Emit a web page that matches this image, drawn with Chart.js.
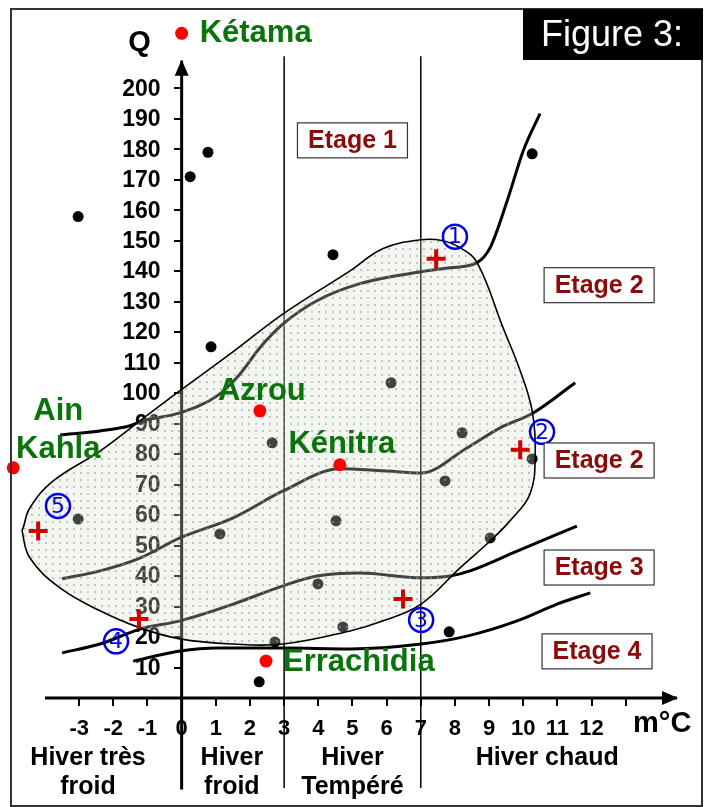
<!DOCTYPE html>
<html>
<head>
<meta charset="utf-8">
<script src="https://cdn.jsdelivr.net/npm/chart.js@4.4.1/dist/chart.umd.min.js"></script>
<style>
  body { margin: 0; background: #fff; }
</style>
</head>
<body>
<canvas id="climChart" width="710" height="807"></canvas>
<script>
// ---- axis ticks ----
const xTicks = [-3, -2, -1, 0, 1, 2, 3, 4, 5, 6, 7, 8, 9, 10, 11, 12, 13];
const xTickLabels = ['-3', '-2', '-1', '0', '1', '2', '3', '4', '5', '6', '7', '8', '9', '10', '11', '12', ''];
const yTicks = [10, 20, 30, 40, 50, 60, 70, 80, 90, 100, 110, 120, 130, 140, 150, 160, 170, 180, 190, 200];
// drawn extent of the two axes
const xAxisRange = [-4, 14.5];
const yAxisRange = [-30, 209];

// ---- winter zones (m in °C) ----
const zoneBounds = [3, 7];
const zoneNames = ['Hiver très\nfroid', 'Hiver\nfroid', 'Hiver\nTempéré', 'Hiver chaud'];

// ---- envelope of the studied stations (closed curve) ----
const envX = [-4.64, -4.44, -3.76, -2.39, -1.22, -0.05, 1.51, 2.97, 4.93, 5.90, 7.01, 7.65, 8.15, 8.65, 9.41, 9.91, 10.26, 10.35, 10.20, 9.61, 9.03, 8.15, 7.01, 5.90, 4.93, 2.97, 1.51, -0.05, -1.22, -2.39, -3.56, -4.44, -4.67];
const envQ = [55.8, 62.4, 71.2, 81.0, 90.9, 100.8, 113.6, 126.0, 140.1, 147.4, 150.3, 150.0, 147.7, 142.8, 121.4, 107.3, 94.2, 80.1, 67.0, 58.1, 51.5, 42.7, 30.8, 25.3, 22.0, 17.7, 17.7, 19.4, 23.0, 28.6, 36.1, 45.9, 54.8];

// ---- limits between bioclimatic stages ----
const lim1X = [-3.56, -2.39, -1.51, -1.13, -0.05, 1.04, 1.71, 2.29, 2.97, 3.96, 5.22, 7.01, 7.86, 8.65, 9.03, 9.53, 10.0, 10.49];
const lim1Q = [86.3, 87.6, 89.3, 90.9, 93.5, 99.1, 106.3, 114.9, 122.7, 130.3, 135.9, 139.8, 141.1, 142.8, 147.7, 163.1, 179.5, 191.7];
const lim2X = [-3.50, -2.39, -1.22, -0.05, 1.51, 2.97, 4.63, 5.90, 7.01, 8.35, 9.32, 10.29, 11.52];
const lim2Q = [39.1, 41.7, 45.9, 52.5, 59.1, 67.9, 75.2, 74.5, 73.8, 82.0, 88.6, 93.5, 103.4];
const lim3X = [-3.50, -2.39, -1.22, -0.05, 1.51, 2.97, 3.96, 5.22, 7.01, 7.86, 8.44, 9.82, 11.57];
const lim3Q = [14.8, 17.7, 22.6, 25.3, 30.8, 36.8, 40.0, 41.0, 39.4, 40.0, 41.7, 48.2, 56.4];
const lim4X = [-1.42, -0.05, 1.04, 2.97, 4.93, 7.01, 8.35, 9.82, 10.99, 11.96];
const lim4Q = [12.1, 15.4, 16.4, 16.4, 16.1, 17.7, 20.3, 25.3, 30.8, 34.5];

// ---- other stations (black dots) ----
const dotX = [-3.03, 0.25, 0.77, 0.86, 4.43, 10.26, 2.65, 6.13, 8.21, 7.71, 10.26, 9.03, -3.03, 1.12, 4.52, 3.99, 4.72, 2.73, 2.27, 7.83];
const dotQ = [157.9, 171.0, 179.0, 115.2, 145.4, 178.5, 83.7, 103.4, 87.0, 71.2, 78.4, 52.5, 58.7, 53.8, 58.1, 37.4, 23.3, 18.4, 5.3, 21.7];

// ---- named stations (red dots) ----
const cityNames = ['Kétama', 'Azrou', 'Kénitra', 'Ain\nKahla', 'Errachidia'];
const cityX = [0, 2.29, 4.63, -4.93, 2.47];
const cityQ = [218, 94.2, 76.5, 75.5, 12.1];

// ---- red crosses ----
const crossX = [7.45, 9.91, -4.2, -1.25, 6.48];
const crossQ = [144.1, 81.4, 54.8, 25.9, 32.5];

// ---- circled reference numbers ----
const markLabels = ['1', '2', '3', '4', '5'];
const markX = [8.0, 10.55, 7.01, -1.92, -3.62];
const markQ = [151.3, 87.3, 25.6, 18.6, 63.0];

// ---- stage labels ----
const etageNames = ['Etage 1', 'Etage 2', 'Etage 2', 'Etage 3', 'Etage 4'];

// placement of the text annotations (data coordinates / pixel offsets)
const etagePos = [[5.0, 182.9], [12.22, 135.4], [12.22, 77.9], [12.22, 42.8], [12.16, 15.3]];
const zoneLabelX = [-2.74, 1.47, 5.0, 10.7];
const cityOffsets = [
  {dx: 18, dy: 0, align: 'left'},
  {dx: 2, dy: -19, align: 'center'},
  {dx: 2, dy: -20, align: 'center'},
  {dx: 45, dy: -56, align: 'center'},
  {dx: 17, dy: 1, align: 'left'}
];

const FONT = '"Liberation Sans", Arial, sans-serif';
const pts = (xs, qs) => xs.map((v, i) => ({x: v, y: qs[i]}));

const canvas = document.getElementById('climChart');
const ctx = canvas.getContext('2d');

// stippled fill of the envelope
function stipple() {
  const c = document.createElement('canvas');
  c.width = 7; c.height = 7;
  const g = c.getContext('2d');
  g.fillStyle = 'rgba(215,225,205,0.3)';
  g.fillRect(0, 0, 7, 7);
  g.fillStyle = 'rgba(150,155,150,0.55)';
  g.fillRect(3, 3, 2, 2);
  return ctx.createPattern(c, 'repeat');
}

const envPoints = pts(envX, envQ);
envPoints.push(envPoints[0]);

const lineStyle = {type: 'line', pointRadius: 0, borderColor: '#000', clip: false, fill: false};

const datasets = [];
// axes lines, with the y axis running on below the x axis
datasets.push({...lineStyle, data: [{x: 0, y: yAxisRange[0]}, {x: 0, y: yAxisRange[1]}], borderWidth: 3, order: 7});
datasets.push({...lineStyle, data: [{x: xAxisRange[0], y: 0}, {x: xAxisRange[1], y: 0}], borderWidth: 3, order: 7});
// winter zone separators
zoneBounds.forEach(b => {
  datasets.push({...lineStyle, data: [{x: b, y: -29.5}, {x: b, y: 210.5}], borderWidth: 1.5, order: 6});
});
[[lim1X, lim1Q], [lim2X, lim2Q], [lim3X, lim3Q], [lim4X, lim4Q]].forEach(([xs, qs]) => {
  datasets.push({...lineStyle, data: pts(xs, qs), borderWidth: 3, cubicInterpolationMode: 'monotone', order: 5});
});
datasets.push({type: 'scatter', data: pts(dotX, dotQ), pointRadius: 5.5, backgroundColor: '#000', borderWidth: 0, clip: false, order: 4});
datasets.push({type: 'line', data: envPoints, pointRadius: 0, borderColor: '#000', borderWidth: 1.6, tension: 0.4,
  fill: 'shape', backgroundColor: stipple(), clip: false, order: 3});
datasets.push({type: 'scatter', data: pts(crossX, crossQ), pointStyle: 'cross', pointRadius: 9.5, borderWidth: 4, borderColor: '#d40000', clip: false, order: 2});
datasets.push({type: 'scatter', data: pts(cityX, cityQ), pointRadius: 6.5, backgroundColor: '#ff0000', borderWidth: 0, clip: false, order: 1});
datasets.push({type: 'scatter', data: pts(markX, markQ), pointStyle: 'circle', pointRadius: 12, borderWidth: 2.5, borderColor: '#0000e6', backgroundColor: 'rgba(0,0,0,0)', clip: false, order: 0});
const cityIndex = datasets.length - 2;
const markIndex = datasets.length - 1;

function drawLines(c, text, x, y, lh) {
  text.split('\n').forEach((t, i) => c.fillText(t, x, y + i * lh));
}

const decorations = {
  id: 'decorations',
  // y tick labels sit left of the axis, under the envelope fill
  beforeDatasetsDraw(chart) {
    const {ctx: c, scales: {x, y}} = chart;
    const x0 = x.getPixelForValue(0);
    c.save();
    c.font = 'bold 23px ' + FONT;
    c.fillStyle = '#000';
    c.textAlign = 'right';
    c.textBaseline = 'middle';
    yTicks.forEach(v => c.fillText(String(v), x0 - 21, y.getPixelForValue(v) + 1));
    c.restore();
  },
  afterDatasetsDraw(chart) {
    const {ctx: c, scales: {x, y}} = chart;
    const x0 = x.getPixelForValue(0), y0 = y.getPixelForValue(0);
    const yTop = y.getPixelForValue(yAxisRange[1]), xEnd = x.getPixelForValue(xAxisRange[1]);
    c.save();
    // arrowheads
    c.fillStyle = '#000';
    c.beginPath(); c.moveTo(x0, yTop - 1); c.lineTo(x0 - 7, yTop + 15); c.lineTo(x0 + 7, yTop + 15); c.closePath(); c.fill();
    c.beginPath(); c.moveTo(xEnd + 1, y0); c.lineTo(xEnd - 15, y0 - 7); c.lineTo(xEnd - 15, y0 + 7); c.closePath(); c.fill();

    // axis titles
    c.textBaseline = 'middle';
    c.font = 'bold 29px ' + FONT;
    c.textAlign = 'center';
    c.fillText('Q', x0 - 42, yTop - 18);
    c.textAlign = 'left';
    c.fillText('m°C', xEnd - 44, y0 + 26);

    // winter zones
    c.font = 'bold 25px ' + FONT;
    c.textAlign = 'center';
    zoneNames.forEach((n, i) => drawLines(c, n, x.getPixelForValue(zoneLabelX[i]), y0 + 60, 29));

    // stage boxes
    etageNames.forEach((n, i) => {
      const px = x.getPixelForValue(etagePos[i][0]), py = y.getPixelForValue(etagePos[i][1]);
      c.fillStyle = '#fff';
      c.fillRect(px - 55, py - 17.5, 110, 35);
      c.strokeStyle = '#333';
      c.lineWidth = 1.2;
      c.strokeRect(px - 55, py - 17.5, 110, 35);
      c.fillStyle = '#8b0a0a';
      c.textAlign = 'center';
      c.fillText(n, px, py + 1);
    });

    // station names
    c.font = 'bold 31px ' + FONT;
    c.fillStyle = '#0b730b';
    chart.getDatasetMeta(cityIndex).data.forEach((p, i) => {
      const o = cityOffsets[i];
      c.textAlign = o.align;
      drawLines(c, cityNames[i], p.x + o.dx, p.y + o.dy, 38);
    });

    // circled numbers
    c.font = '22px "DejaVu Sans", sans-serif';
    c.fillStyle = '#0000e6';
    c.textAlign = 'center';
    chart.getDatasetMeta(markIndex).data.forEach((p, i) => c.fillText(markLabels[i], p.x, p.y + 1));
    c.restore();
  },
  afterDraw(chart) {
    const c = chart.ctx;
    c.save();
    c.strokeStyle = '#333';
    c.lineWidth = 2;
    c.strokeRect(11, 9, 691, 797);
    c.fillStyle = '#000';
    c.fillRect(523, 9, 180, 51);
    c.fillStyle = '#fff';
    c.font = '36px ' + FONT;
    c.textAlign = 'center';
    c.textBaseline = 'middle';
    c.fillText('Figure 3:', 612, 36);
    c.restore();
  }
};

// keep the plot area exactly where the layout padding puts it
const noPad = s => { s.paddingLeft = 0; s.paddingRight = 0; s.paddingTop = 0; s.paddingBottom = 0; };

new Chart(ctx, {
  type: 'scatter',
  data: {datasets: datasets},
  options: {
    responsive: false,
    animation: false,
    events: [],
    layout: {autoPadding: false, padding: {left: 4, right: 33, top: 12, bottom: 109}},
    plugins: {legend: {display: false}, tooltip: {enabled: false}},
    scales: {
      x: {
        type: 'linear', min: -5.2, max: 14.5, position: {y: 0},
        afterBuildTicks: s => { s.ticks = xTicks.map(v => ({value: v})); },
        afterFit: noPad,
        ticks: {callback: (v, i) => xTickLabels[i], font: {family: FONT, weight: 'bold', size: 22}, color: '#000', padding: 10, autoSkip: false, maxRotation: 0, minRotation: 0},
        grid: {drawOnChartArea: false, color: '#000', lineWidth: 2, tickLength: 8},
        border: {display: false}
      },
      y: {
        type: 'linear', min: 0, max: 225, position: {x: 0},
        afterBuildTicks: s => { s.ticks = yTicks.map(v => ({value: v})); },
        afterFit: noPad,
        ticks: {display: false},
        grid: {drawOnChartArea: false, color: '#000', lineWidth: 2, tickLength: 8},
        border: {display: false}
      }
    }
  },
  plugins: [decorations]
});
</script>
</body>
</html>
